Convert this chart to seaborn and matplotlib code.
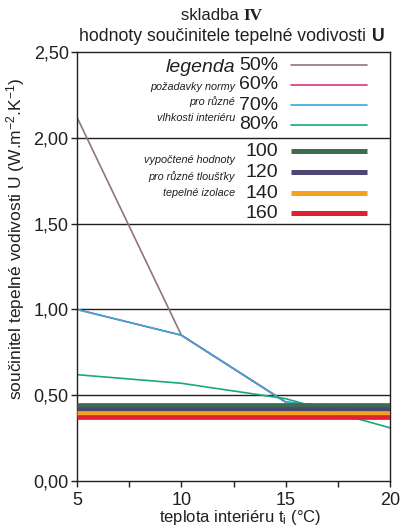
import numpy as np
import pandas as pd
import matplotlib
matplotlib.use("Agg")
import matplotlib.pyplot as plt
import seaborn as sns
from matplotlib.ticker import FuncFormatter, MultipleLocator

# data
temps = [5, 10, 15, 20]
humidity = ["50%", "60%", "70%", "80%"]
u_50 = [2.12, 0.85, 0.46, 0.40]
u_60 = [1.00, 0.85, 0.46, 0.40]
u_70 = [1.00, 0.85, 0.46, 0.40]
u_80 = [0.62, 0.57, 0.48, 0.31]
thickness = ["100", "120", "140", "160"]
u_insul = [0.446, 0.421, 0.396, 0.371]

line_colors = ["#8f7480", "#d8347f", "#3aa8da", "#17a97b"]
band_colors = ["#3f6c50", "#4b4672", "#f4a11e", "#e0212e"]

sns.set_style("ticks")
plt.rcParams["font.family"] = ["Liberation Sans", "DejaVu Sans"]
plt.rcParams["mathtext.fontset"] = "custom"
plt.rcParams["mathtext.rm"] = "Liberation Sans"
plt.rcParams["mathtext.it"] = "Liberation Sans:italic"
plt.rcParams["mathtext.bf"] = "Liberation Sans:bold"

fig = plt.figure(figsize=(4.01, 5.31), dpi=100)
ax = fig.add_axes([0.192, 0.094, 0.781, 0.808])

lines_df = pd.DataFrame({
    "t": temps * 4,
    "U": u_50 + u_60 + u_70 + u_80,
    "vlhkost": np.repeat(humidity, len(temps)),
})
bands_df = pd.DataFrame({
    "t": [temps[0], temps[-1]] * 4,
    "U": np.repeat(u_insul, 2),
    "tloustka": np.repeat(thickness, 2),
})

# horizontal grid lines (they also split the legend box)
for y in [0.5, 1.0, 1.5, 2.0]:
    ax.axhline(y, color="#231f20", lw=1.0, zorder=1)

sns.lineplot(data=lines_df, x="t", y="U", hue="vlhkost", palette=line_colors,
             linewidth=1.2, legend=False, ax=ax, zorder=2)
sns.lineplot(data=bands_df, x="t", y="U", hue="tloustka", palette=band_colors,
             linewidth=3.4, legend=False, ax=ax, zorder=3,
             solid_capstyle="butt")

ax.set_xlim(5, 20)
ax.set_ylim(0, 2.5)
ax.xaxis.set_major_locator(MultipleLocator(5))
ax.xaxis.set_minor_locator(MultipleLocator(2.5))
ax.yaxis.set_major_locator(MultipleLocator(0.5))
ax.yaxis.set_major_formatter(FuncFormatter(lambda v, p: f"{v:.2f}".replace(".", ",")))
ax.tick_params(axis="both", which="major", labelsize=13, length=4, width=1,
               color="#231f20", labelcolor="#231f20")
ax.tick_params(axis="x", which="minor", length=4, width=1, color="#231f20")
ax.tick_params(axis="x", pad=4)
ax.tick_params(axis="y", pad=2)
for s in ax.spines.values():
    s.set_visible(True)
    s.set_color("#231f20")
    s.set_linewidth(1.0)

ax.set_xlabel("teplota interiéru t$_{\\rm i}$ (°C)", fontsize=12, color="#231f20")
ax.xaxis.set_label_coords(0.52, -0.063)
ax.set_ylabel("součinitel tepelné vodivosti U (W.m$^{-2}$.K$^{-1}$)", fontsize=12.5,
              color="#231f20")
ax.yaxis.set_label_coords(-0.16, 0.565)

# legend drawn inside the top of the axes
lab_x = 12.57
num_x = 14.65
smp = [15.25, 18.9]
ax.text(lab_x, 2.41, "legenda", ha="right", va="center", fontsize=14,
        style="italic", color="#231f20")
for txt, y in zip(["požadavky normy", "pro různé", "vlhkosti interiéru"],
                  [2.296, 2.209, 2.115]):
    ax.text(lab_x, y, txt, ha="right", va="center", fontsize=7.8,
            style="italic", color="#231f20")
for txt, y in zip(["vypočtené hodnoty", "pro různé tloušťky", "tepelné izolace"],
                  [1.871, 1.777, 1.678]):
    ax.text(lab_x, y, txt, ha="right", va="center", fontsize=7.8,
            style="italic", color="#231f20")

for name, col, y in zip(humidity, line_colors, [2.424, 2.308, 2.19, 2.075]):
    ax.text(num_x, y, name, ha="right", va="center", fontsize=14, color="#231f20")
    ax.plot(smp, [y, y], color=col, lw=1.2)
for name, col, y in zip(thickness, band_colors, [1.923, 1.80, 1.678, 1.562]):
    ax.text(num_x, y, name, ha="right", va="center", fontsize=14, color="#231f20")
    ax.plot(smp, [y, y], color=col, lw=3.6, solid_capstyle="butt")

# title
fig.text(0.606, 0.970, "skladba ", ha="right", va="center", fontsize=12, color="#231f20")
fig.text(0.608, 0.970, "IV", ha="left", va="center", fontsize=12.5, color="#231f20",
         family="Liberation Serif", weight="bold")
fig.text(0.926, 0.932, "hodnoty součinitele tepelné vodivosti ", ha="right", va="center",
         fontsize=12.7, color="#231f20")
fig.text(0.928, 0.932, "U", ha="left", va="center", fontsize=12.7, color="#231f20",
         weight="bold")

fig.savefig("out.png", dpi=100)
